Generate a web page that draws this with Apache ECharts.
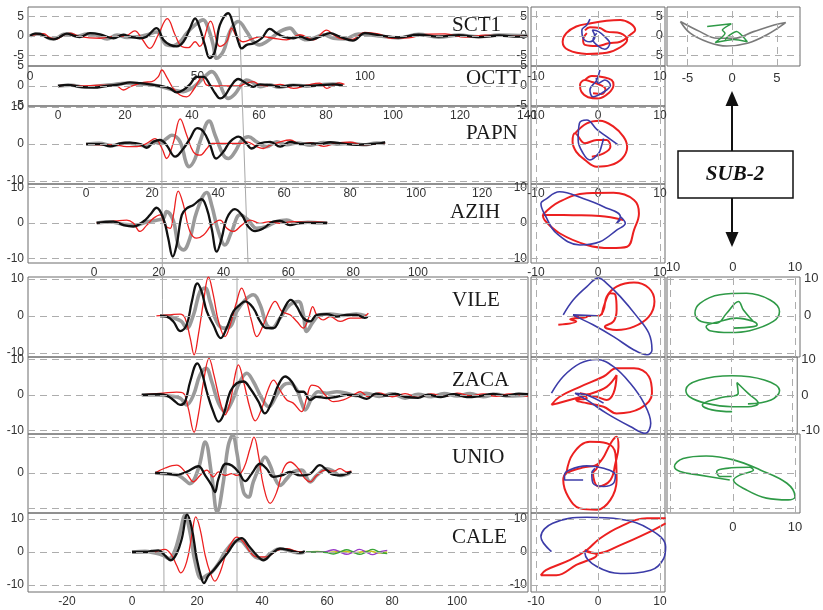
<!DOCTYPE html>
<html>
<head>
<meta charset="utf-8">
<script src="https://cdn.jsdelivr.net/npm/echarts@6/dist/echarts.min.js"></script>
<style>
html, body { margin: 0; padding: 0; background: #fff; }
#main { width: 823px; height: 610px; }
</style>
</head>
<body>
<div id="main"></div>
<script>
// ---- waveforms: [time (s), amplitude] ----
const sct1Black = [[0,0],[1.5,0.6],[3,0.5],[5,-0.4],[7,-0.9],[9,-0.2],[11,0.6],[13,0.1],[14.9,-0.3],[17.9,0.7],[20.9,0.4],[24.9,-0.6],[27.9,0.3],[29.9,-0.2],[32.8,-0.6],[34.8,-0.2],[37.8,2.0],[39.8,-1.0],[41.8,-2.3],[43.8,-2.7],[45.8,-1.5],[47.8,2.0],[49.3,4.5],[50.7,2.0],[52.2,-2.3],[53.7,-5.7],[55.2,-4.0],[56.7,2.8],[59.2,5.8],[60.7,2.8],[62.2,-1.5],[63.2,-3.2],[64.7,-2.3],[66.7,-1.9],[69.2,-0.6],[71.6,1.8],[73.6,0.7],[75.6,-0.2],[78.6,-0.6],[80.6,-0.2],[83.6,-1.0],[86.6,-0.2],[89.6,0.7],[92.5,-0.2],[96.4,-1.2],[100,0.7],[104,0.2],[110,-0.4],[116,0.3],[122,-0.2],[128,0.2],[134,-0.3],[140,0.1],[146,-0.2],[148.5,0]];
const sct1Gray = [[0,0],[2,0.5],[4,0.2],[6,-0.7],[8,-0.5],[10,0.4],[12,0.5],[14,-0.1],[17,0.5],[20,0.2],[23,-0.8],[26,0.2],[29,-0.4],[32,-0.2],[35,0.3],[37.8,1.0],[40.8,-2.3],[42.8,-2.5],[44.8,-1.5],[46.8,0.7],[49.3,2.8],[51.7,4.1],[53.2,2.0],[54.7,-2.3],[55.7,-5.7],[57.7,-4.0],[59.7,1.1],[62.2,3.7],[64.7,1.1],[66.7,-1.5],[68.6,-2.3],[70.6,-1.5],[72.6,-0.2],[74.6,1.1],[77.6,2.0],[79.6,0.3],[82.6,-1.0],[84.6,-0.6],[87.6,0.3],[90.6,-0.6],[94,-0.8],[98,0.5],[104,0],[110,-0.5],[116,0.4],[122,-0.3],[128,0.2],[134,-0.2],[140,0.2],[148.5,0]];
const sct1Red = [[0,0],[2,0.4],[4,0.6],[6,-0.5],[8,-0.8],[10,0.2],[12,0.7],[14.9,-0.2],[20.9,-0.6],[24.9,-0.2],[28.8,0.1],[31.3,1.3],[33.3,-0.6],[35.8,-3.2],[38.3,0.3],[41.0,4.4],[43.3,0.3],[45.3,-2.7],[47.3,-3.0],[49.3,-1.5],[50.7,-2.7],[53.9,3.8],[56.7,-2.7],[58.7,-1.5],[60.2,2.0],[61.7,-0.2],[63.7,-1.5],[66.7,-0.6],[69.6,-0.2],[72.6,-0.6],[76.6,-1.0],[80.6,0.3],[84.6,-1.0],[88.6,1.5],[90.6,0.3],[92.5,-0.6],[96,-0.9],[100,0.9],[104,0.5],[108,-0.6],[113,-0.5],[118,0.4],[124,0.5],[130,-0.3],[136,0.2],[142,-0.1],[148.5,0]];

const octtBlack = [[0,0],[3,0.3],[6.6,-0.2],[10.6,-0.4],[14.5,0],[18.5,0.4],[21.5,0.9],[24.5,0.7],[27.5,0.4],[30.5,0],[33.4,-0.6],[35.4,-1.6],[37.4,-1.0],[39.4,0.4],[41.4,2.3],[43.4,2.3],[45.4,0.2],[46.9,-1.8],[48.4,-3.1],[49.9,-2.3],[51.8,0.2],[53.8,1.75],[55.8,0.9],[58.3,-0.2],[60.3,0.4],[63.3,0.2],[66.3,-0.2],[70.3,0.2],[74.2,0],[78.2,0.2],[82.2,0.4],[85,0.1]];
const octtGray = [[0,0],[4,0.2],[8,-0.3],[12,0],[16,0.3],[20,0.7],[24,0.5],[28,0.3],[31,-0.2],[34.4,-1.0],[37.4,-1.4],[39.4,-0.8],[41.4,0.4],[43.4,2.0],[45.9,3.6],[47.9,1.5],[49.3,-1.5],[50.8,-3.1],[52.8,-2.0],[54.8,0.4],[56.3,1.5],[58.3,0.8],[60.3,-0.2],[63,0.3],[66,-0.3],[70,0.2],[74,0],[78,0.3],[82,0.5],[85,0.2]];
const octtRed = [[0,0],[3,0.3],[6.6,0],[12.5,0.2],[17.5,0],[19.5,-1.0],[21.5,-0.2],[25.5,0.9],[28,1.1],[29.9,2.3],[31.0,4.0],[32.4,2.3],[34.4,-0.6],[36.4,-2.25],[38.4,-2.7],[40.4,-1.0],[41.9,1.1],[42.9,2.3],[44.4,0.2],[46.4,0],[50,0],[54.3,0],[55.3,0.4],[58.3,1.1],[60.3,0.2],[63.3,0],[66.3,0.4],[70.3,-0.6],[74.2,0.2],[78.2,0.7],[80.2,-0.6],[82.2,0.2],[84,0.8],[85.5,0.4]];

const papnBlack = [[0,0],[4.2,0],[7.3,-0.6],[10.3,0.2],[13.3,0.4],[16.4,0],[18.4,-1.0],[20.4,0.6],[22.4,1.1],[24.4,-0.3],[27.0,-3.4],[29.5,-1.2],[31.5,1.5],[33.7,4.3],[35.6,3.3],[37.6,-0.3],[39.4,-3.9],[41.6,-2.1],[43.6,0.6],[46.2,2.0],[48.2,0.6],[50.2,-1.2],[52.7,0.2],[55.8,0.6],[58.8,-0.7],[61.8,0.6],[64.9,0],[68.9,0.2],[70.9,0],[74,0.5],[78,0.1],[82,-0.2],[86,0],[89,0.2],[90.6,0.5]];
const papnGray = [[0,0],[4,0.2],[8,-0.4],[12,0.3],[16,-0.2],[18.4,-0.6],[20.4,0.6],[22.4,0.2],[24.4,1.5],[26.0,2.4],[28.5,0.6],[30.3,-5.0],[31.2,-6.1],[33,-4.0],[34.5,0.6],[37.3,6.2],[39.1,2.4],[41.6,-3.0],[43.1,-3.9],[45.1,-2.1],[47.2,1.1],[49.2,2.0],[51.7,0.6],[54.7,-0.7],[57.8,0.6],[60.8,-0.2],[64,0.3],[68,-0.3],[72,0.4],[76,0],[80,0.2],[84,-0.2],[88,0.3],[90.6,0.2]];
const papnRed = [[0,0],[5,-0.2],[8.3,-0.2],[12.3,-0.7],[15.4,-0.7],[18.4,0.2],[20.9,1.5],[23,-1.2],[24.4,-3.9],[26.5,0.6],[28.5,6.8],[30.5,2.4],[32.5,-2.1],[34.5,-3.0],[36.6,-1.2],[38.1,0.2],[40.6,0.2],[44.6,0.2],[47.2,0.2],[48.7,0.6],[51.7,-0.7],[53.7,-1.2],[55.8,-0.3],[58.8,0.6],[61.8,1.1],[64.9,0],[68,0.4],[72,-0.6],[76,0.3],[80,0.5],[84,-0.2],[88,0],[90.6,0.3]];

const azihBlack = [[0.8,0],[6.0,0.4],[9.1,-0.6],[12.1,-1.0],[15.2,0.4],[17.3,2.3],[19.3,4.3],[21.4,1.3],[22.9,-4.3],[24.3,-9.5],[25.5,-6.2],[27.1,2.3],[28.6,4.1],[30.7,5.1],[33.2,6.7],[34.8,4.1],[36.3,-1.5],[37.9,-8.1],[39.4,-4.3],[41.0,1.3],[43.5,3.9],[45.6,2.3],[47.6,-1.0],[49.7,-2.3],[52.3,-1.5],[55.3,0.4],[57.4,0.6],[60.5,-0.6],[63.6,0],[67.7,0],[72,0]];
const azihGray = [[0.8,0],[5,0.3],[9,-0.4],[13,-0.6],[16,0.2],[19.3,0.8],[21.4,1.3],[22.4,3.2],[24.5,0.6],[26.0,-6.2],[27.6,-7.6],[29.6,-4.3],[31.7,3.2],[34.8,8.6],[36.3,5.1],[38.4,-2.4],[40.4,-6.2],[42.5,-2.4],[45.1,2.3],[47.6,0.8],[50.2,-1.5],[53.3,-1.0],[56.4,0.4],[59.5,0.8],[62.6,-0.1],[66,0.2],[70,0],[72,0]];
const azihRed = [[0.8,0],[7,0.6],[10.1,0.8],[12.1,0],[14.2,-2.4],[16.3,-0.6],[18.3,1.3],[20.4,2.3],[21.9,-0.6],[23.5,-1.5],[24.5,2.3],[26.0,9.0],[27.6,5.1],[29.6,-2.4],[31.7,-4.3],[33.8,-3.4],[36.3,-0.6],[38.9,0.8],[41.0,-1.5],[43.0,-2.4],[45.6,-0.6],[48.2,0.8],[51.2,-0.1],[54.3,0.4],[57.4,-0.1],[61.5,0.4],[65.6,0.2],[69,0.3],[72,0.1]];

const vileBlack = [[8.6,0],[10.7,-0.2],[12.7,-1.5],[14.8,-4.1],[16.8,-2.4],[18.4,3.9],[20.1,8.8],[21.4,6.6],[23.0,1.2],[25.0,-2.4],[27.3,-6.0],[29.1,-3.3],[31.2,1.2],[33.2,3.0],[34.8,3.9],[37.3,2.1],[39.4,-1.5],[41.4,-3.3],[43.5,-3.3],[45.5,-0.6],[47.1,2.5],[48.8,4.3],[50.7,2.5],[52.7,-0.6],[54.8,-1.5],[56.8,0.3],[59.9,0.5],[63.0,-0.2],[66.1,0.3],[69.1,0.3],[71.5,-0.5],[72.5,-0.2]];
const vileGray = [[8.6,0],[11,0],[13,-0.6],[15.2,-1.5],[16.8,-3.3],[18.9,0.3],[20.9,6.6],[22.5,7.5],[24,3.9],[26.0,-1.5],[28.1,-3.3],[30.2,-2.9],[32.2,1.2],[34.8,4.3],[37.3,5.7],[39.4,3.0],[41.4,-2.4],[43.0,-3.3],[45.5,-0.6],[48.6,3.0],[51.2,3.9],[52.7,0.3],[53.7,-4.2],[55.8,-1.5],[57.8,0.3],[60.9,0.5],[65,0.1],[69,0.5],[72,0]];
const vileRed = [[7.5,0],[11.7,0.3],[14.8,0.5],[16.3,-0.6],[17.9,-6.0],[19.1,-10.5],[20.4,-5.1],[22,3.9],[23.5,10.5],[25.0,5.7],[26.6,-1.5],[28.6,-5.6],[30.2,-2.4],[32.2,3.9],[33.7,7.5],[35.3,3.9],[36.8,-1.5],[38.4,-5.6],[40.4,-2.4],[42.5,2.1],[44.0,3.9],[46.1,1.2],[48.6,0.3],[50.7,-1.5],[52.7,-3.3],[54.3,-0.6],[55.6,2.5],[56.8,0.3],[58.9,-1.1],[60.9,-0.2],[64.0,-1.5],[67.1,-0.6],[70.2,-0.6],[72.7,0.7]];

const zacaBlack = [[3,0],[8.6,0.2],[10.7,-0.2],[12.7,-1.4],[14.8,-2.8],[16.3,-1.9],[17.9,3.8],[20.1,8.9],[21.4,6.6],[23.0,0.9],[25.0,-4.7],[26.6,-7.5],[28.1,-5.6],[30.2,0.9],[32.2,3.3],[34.3,3.8],[36.3,1.9],[38.9,-1.9],[40.9,-5.2],[43.0,-1.9],[45.0,2.8],[47.1,5.2],[49.1,3.8],[51.2,0.9],[52.7,0.9],[54.8,-1.4],[56.8,-0.5],[59.9,-0.9],[63.0,-0.5],[66.1,0],[69.1,-0.2],[72.2,-1.1],[75,0.4],[78,-0.2],[81,0.3],[84,-0.5],[88,-0.8],[91,0.1],[95,-0.6],[99,0.2],[103,-0.6],[107,-0.3],[111,0.3],[115,-0.2],[119,0.4],[121.8,0.2]];
const zacaGray = [[3,0],[8,0],[11.5,-0.3],[14.8,-0.9],[16.8,-2.8],[18.9,0],[20.9,5.6],[22.8,7.5],[24.5,3.8],[26.6,-2.3],[28.6,-4.7],[30.7,-1.9],[33.2,3.8],[35.3,6.1],[37.3,3.8],[39.9,-0.9],[42.0,-3.3],[44.5,0],[46.6,2.8],[48.6,3.3],[50.7,1.4],[52.2,-2.3],[53.2,-4.2],[55.3,-0.9],[57.3,0.9],[59.9,0.5],[63,0.9],[66,0.5],[69,-0.2],[72,0.5],[76,-0.4],[80,0.3],[84,-0.9],[88,0.2],[92,-0.5],[96,0.4],[100,-0.3],[104,0.4],[108,-0.5],[112,0.2],[116,-0.3],[121.8,0]];
const zacaRed = [[3,0],[9.6,0.5],[13.7,0.8],[15.8,0.5],[17.3,-3.8],[19.1,-10.5],[20.4,-5.6],[22.0,3.8],[23.7,10.3],[25.2,5.6],[27.1,-1.9],[28.6,-5.6],[30.2,-1.9],[31.7,5.6],[32.7,8.5],[34.3,3.8],[36.3,-3.8],[37.9,-7.3],[39.9,-3.8],[42.0,1.9],[43.5,4.2],[45.5,1.4],[47.6,-1.4],[49.6,-2.3],[52.2,-4.7],[53.7,-0.9],[55.3,2.8],[57.3,2.3],[59.4,0],[62,-1.9],[65,-1.4],[68.1,0],[70.2,0.9],[72.7,-0.5],[76,0.6],[80,-0.5],[84,0.4],[88,-0.7],[92,0.3],[96,-0.4],[100,0.5],[104,-0.2],[108,0.3],[112,-0.4],[116,0.3],[121.8,-0.4]];

const unioBlack = [[7.1,0],[10.7,-0.2],[13.7,-0.5],[16.8,0.3],[20.4,1.9],[22.5,-0.7],[24.5,-3.5],[25.5,-5.4],[26.6,-1.6],[28.9,2.6],[30.7,2.1],[32.7,0.3],[34.8,-2.3],[36.8,-0.2],[39.4,2.6],[41.4,1.2],[43.5,-1.1],[46.0,-0.7],[48.6,0.3],[51.7,-0.7],[54.8,-0.2],[57.8,2.2],[59.9,0.8],[61.9,-0.5],[64.0,-0.7],[66,-0.2],[67.5,0.3]];
const unioGray = [[7.1,0],[11,-0.3],[13.7,-0.5],[15.8,-1.6],[17.8,-3.0],[20.4,1.2],[22.5,8.7],[24.5,-0.7],[26.2,-11.0],[28.1,-2.5],[29.6,7.7],[31.0,10.6],[32.2,6.0],[34.3,-5.4],[35.8,-6.8],[37.3,-2.5],[39.4,2.1],[40.9,4.5],[42.5,2.1],[44.0,-1.6],[45.5,-3.5],[47.6,-1.6],[49.6,0.3],[52.2,0.8],[54.8,-2.5],[56.8,-0.7],[59.9,1.2],[61.9,0.5],[64,-0.7],[67,0]];
const unioRed = [[7.1,0],[10.2,1.4],[13.7,2.2],[16.8,-0.2],[18.9,-2.5],[20.9,-0.7],[23.0,0.8],[25.0,-1.1],[26.6,0.3],[28.6,-0.7],[30.7,-0.2],[32.2,-0.7],[34.3,1.2],[36.3,6.9],[37.5,10.1],[38.9,5.0],[40.4,-3.5],[42.5,-8.6],[44.5,-5.4],[46.6,1.2],[48.6,3.1],[51.2,1.2],[53.2,-1.6],[54.8,-2.5],[56.8,-0.7],[59.4,0.8],[61.9,0.5],[64.0,1.2],[66,0.3],[67.5,0.5]];

const caleBlack = [[0,0],[4.5,0],[6,0.3],[8.1,0.5],[10.1,-1.0],[11.9,-2.5],[13.7,-0.5],[15.3,4.0],[17.0,11.3],[18.4,7.1],[19.9,-2.0],[21.4,-8.1],[22.1,-9.4],[23.5,-7.1],[25.0,-5.6],[27.1,-3.0],[29.6,0],[31.7,3.0],[33.7,4.2],[35.8,2.0],[38.4,-1.0],[40.4,-2.5],[43.0,-0.5],[45.5,1.0],[48.6,0.5],[51.7,-0.2],[53.2,0.2]];
const caleGray = [[0,0],[4,0.2],[7,-0.3],[9.5,-1.0],[11.4,-2.0],[13.2,0.5],[14.8,6.0],[16.3,11.1],[17.8,6.1],[19.4,-3.0],[21.4,-8.1],[23,-7.0],[24.5,-6.1],[26.6,-3.5],[28.6,0],[31.2,3.0],[33.2,3.5],[35.3,1.5],[37.9,-1.5],[40.4,-2.0],[42.5,-0.5],[45.5,1.0],[48.6,0.3],[51.7,-0.3],[53,0]];
const caleRed = [[0,0],[6.5,0],[10.1,0.8],[12.2,-1.0],[13.7,-4.0],[15.0,-6.3],[16.8,-3.0],[18.4,5.1],[19.6,10.6],[20.9,7.1],[22.5,-1.0],[24.0,-6.1],[25.5,-8.8],[27.1,-6.1],[29.1,0],[30.7,3.0],[32.2,4.5],[34.3,3.0],[36.3,0],[38.4,-1.5],[41.4,-1.5],[44.5,0.5],[47.6,1.0],[50.7,0.2],[52.7,0]];
const calePurple = [[53.5,0],[58,0],[60,0.2],[62,0.7],[64,0],[66,-0.7],[68,0],[70,0.8],[72,0],[74,-0.8],[76,0],[78.5,0.5]];
const caleGreen = [[53.5,0],[58,0],[60,-0.2],[62,-0.6],[64,0],[66,0.7],[68,0],[70,-0.7],[72,0],[74,0.8],[76,0],[78.5,-0.5]];
const caleYellow = [[53.5,0],[57,0.1],[61,-0.1],[65,0.2],[69,-0.2],[73,0.3],[76,-0.3],[78.5,0]];

// ---- particle motion: [x, y] ----
const pmSct1Red = [[-1.8,0.7],[-2.4,-1.0],[-2.1,-2.3],[-0.2,-2.6],[1.7,-1.9],[3.6,-1.5],[5.2,0.3],[6.0,1.5],[5.2,3.2],[3.6,4.1],[1.4,3.9],[-1.3,3.2],[-3.5,2.4],[-5.1,0.7],[-5.7,-1.5],[-4.8,-3.6],[-1.8,-4.6],[1.4,-4.3],[3.6,-2.9],[4.7,-1.0],[3.6,0.7],[1.4,1.1],[0.3,2.0],[-1.3,2.2],[-2.1,1.4]];
const pmSct1Blue = [[-1.3,4.3],[-1.8,2.8],[-2.6,1.5],[-2.4,-0.6],[-1.3,-1.5],[-0.5,-0.2],[-0.9,1.5],[0.1,1.1],[1.1,-0.2],[1.9,-1.9],[1.1,-3.4],[0.1,-2.7],[-0.8,-1.0],[-0.2,0.7]];
const pmOcttRed = [[-2.1,1.5],[-1.0,2.5],[0.9,2.2],[2.2,1.5],[2.5,0.25],[1.7,-1.8],[0.1,-3.1],[-1.6,-2.8],[-2.7,-1.4],[-2.9,0.25],[-2.1,1.5],[-1.0,1.0],[0.3,0.3],[1.2,-0.8],[0.6,-2.0],[-0.8,-1.8]];
const pmOcttBlue = [[0.3,4.0],[-0.2,1.5],[-1.3,-1.0],[-0.8,-2.7],[0.6,-1.8],[2.0,0.2],[1.1,1.5],[0.1,0.7],[-0.3,2.0]];
const pmPapnRed = [[-3.7,2.9],[-1.8,5.6],[0.3,6.3],[2.5,4.7],[4.1,2.0],[4.7,-0.7],[3.9,-3.9],[2.0,-5.7],[-0.2,-6.1],[-2.1,-4.3],[-3.5,-2.1],[-4.1,0.6],[-3.7,2.9],[-2.1,0.2],[-0.2,1.1],[1.4,1.1],[2.0,-0.7],[0.9,-2.5],[-1.0,-3.4]];
const pmPapnBlue = [[3.3,-0.3],[1.4,2.0],[-0.2,4.0],[-1.8,6.5],[-3.0,5.6],[-3.2,1.1],[-2.4,-2.5],[-1.3,-4.3],[0.1,-2.5],[0.6,-0.3],[0.9,1.5]];
const pmAzihRed = [[-8.9,2.3],[-6.2,6.0],[-1.8,8.4],[2.5,8.5],[5.8,6.5],[6.6,2.7],[5.8,-2.0],[4.7,-6.7],[2.0,-7.1],[-1.8,-6.2],[-6.2,-2.9],[-8.6,0.8],[-8.9,2.3],[-4,2.2],[0.3,2.0],[4.1,0.85]];
const pmAzihBlue = [[3.6,0.85],[3.0,-0.1],[3.6,1.8],[0.9,4.6],[-2.4,6.9],[-6.2,8.8],[-8.6,6.5],[-9.2,5.5],[-8.4,1.8],[-6.7,-2.9],[-2.9,-6.2],[0.3,-5.3],[3.0,-2.0],[4.4,-0.1],[3.6,1.8]];
const pmVileRed = [[-6.4,-2.4],[-3.5,-1.5],[-4.5,-0.9],[-1.8,-0.4],[-4.0,0],[0.1,0],[0.9,1.6],[1.4,5.2],[3.0,7.9],[5.8,9.0],[8.2,7.5],[9.1,3.9],[8.2,-0.2],[5.8,-2.9],[3.0,-3.8],[1.1,-2.9],[2.5,-1.5],[3.0,1.6],[2.8,5.7],[2.0,6.1],[1.1,3.4],[0.6,0.3]];
const pmVileBlue = [[-5.6,0.3],[-4.0,4.3],[-1.8,7.9],[0.1,10.2],[1.4,8.8],[3.6,5.2],[6.3,-0.2],[8.2,-4.7],[8.7,-9.2],[7.9,-10.5],[5.8,-9.2],[2.5,-5.6],[-0.8,-2.4],[-3.5,-0.2],[-4.0,0.3],[-0.2,0]];
const pmZacaRed = [[-7.5,-2.8],[-5.6,-1.9],[-1.8,0],[1.4,2.3],[3.0,5.6],[2.5,0.5],[1.4,-1.4],[-0.2,-0.5],[-2.9,0.5],[-1.8,-0.9],[-3.5,-1.4],[0.9,-3.3],[3.0,-5.2],[6.8,-3.8],[8.7,0.5],[8.2,5.2],[5.8,7.5],[3.0,7.5],[0.9,5.2],[-2.9,2.3],[-6.2,-0.5],[-7.5,-2.8]];
const pmZacaBlue = [[-7.5,0.5],[-5.6,5.2],[-2.9,8.9],[-0.2,10.0],[2.5,8.0],[5.2,3.3],[7.4,-2.3],[8.5,-8.0],[7.6,-10.8],[5.2,-8.9],[1.4,-5.2],[-1.8,-1.4],[-3.7,0.5],[-1.8,0],[0.9,-2.3]];
const pmUnioRed = [[-5.1,-0.1],[-4.0,5.5],[-1.3,8.8],[1.4,8.4],[2.8,5.5],[3.0,-2.0],[2.0,-7.6],[-0.2,-10.4],[-2.9,-10.0],[-4.8,-6.7],[-5.6,-2.0],[-5.1,-0.1],[-2.5,1.5],[0.1,2.7],[2.2,8.8],[3.0,10.2],[3.3,7.4],[2.8,2.7],[2.0,-2.0],[0.1,-3.8],[-0.8,-0.1],[-0.2,1.3],[0.3,3.7]];
const pmUnioBlue = [[-2.4,-2.0],[-5.4,-2.0],[-5.4,-0.6],[-4.6,0.85],[-1.8,2.0],[0.9,1.3],[2.8,-0.6],[2.5,-2.9],[0.9,-3.8],[-0.8,-2.9],[-1.0,-0.1],[-0.5,1.3]];
const pmCaleRed = [[10.9,10.2],[7.9,10.2],[3.6,7.7],[0.3,4.1],[-1.8,0.6],[-4.5,-2.4],[-8.4,-5.5],[-9.2,-7.0],[-6.7,-7.0],[-3.5,-3.9],[-0.2,-0.9],[-1.8,0.1],[-2.1,0.6],[-0.2,-0.4],[3.6,2.1],[7.9,5.7],[10.9,8.7]];
const pmCaleBlue = [[-7.5,0.1],[-9.2,4.6],[-7.3,8.7],[-1.8,10.5],[3.6,9.9],[8.5,6.7],[10.9,1.6],[10.6,-1.9],[8.5,-5.5],[3.6,-6.5],[-0.2,-4.4],[-2.1,-0.4],[-1.8,0.6]];

// ---- SUB-2 particle motion ----
const sub2Gray = [[-5.8,3.7],[-4.7,0.7],[-2.8,-1.5],[-0.6,-2.6],[1.7,-1.9],[3.9,0.3],[6.0,3.4],[4.7,2.8],[2.4,1.1],[0.2,-0.6],[-1.7,-0.6],[-3.6,1.1],[-5.8,3.7]];
const sub2Green = [[-2.8,2.4],[-0.1,3.1],[-1.1,1.5],[-0.8,0.7],[-1.9,-1.7],[0.2,-0.9],[1.7,-1.5],[0.5,1.1],[-0.2,0.3],[-0.8,-0.9]];
const greenVile = [[0.1,-3.3],[3.3,-2.9],[3.9,-2.4],[3.3,-1.5],[0.6,-0.6],[-2.1,-1.5],[-4.3,-2.9],[-3.7,-4.0],[-0.5,-4.5],[2.7,-4.0],[6.5,-1.5],[7.5,1.2],[6.0,4.3],[2.2,6.1],[-2.1,5.7],[-5.3,3.4],[-6.1,0.7],[-5.1,-1.5],[-2.6,-2.0],[-1.0,0.7],[0.9,3.9],[1.7,1.6],[3.3,-1.5]];
const greenZaca = [[0.1,-4.7],[-3.2,-4.2],[-4.8,-2.8],[-2.1,-0.9],[1.1,0.5],[0.9,3.5],[2.7,0.5],[4.4,-2.3],[2.7,-3.3],[0.1,-3.3],[-4.3,-2.3],[-6.9,-0.5],[-7.5,1.4],[-5.3,4.2],[0.1,5.4],[5.4,4.2],[7.9,1.2],[6.5,-1.4],[2.7,-2.5]];
const greenUnio = [[-0.2,-1.0],[-2.1,-1.0],[-2.6,0.4],[-1.0,1.3],[2.7,1.6],[3.3,0.85],[1.1,-0.6],[0.1,-2.0],[2.2,-4.8],[5.4,-7.1],[8.9,-7.6],[10.0,-6.7],[8.7,-2.9],[4.4,0.85],[0.1,3.7],[-4.3,4.8],[-8.0,4.1],[-9.4,1.8],[-8.5,0.4],[-5.3,-0.6],[-0.5,-2.0]];

// ---- tick labels ----
const sct1Ticks = [0, 50, 100, 150];
const octtTicks = [0, 20, 40, 60, 80, 100, 120, 140];
const papnTicks = [0, 20, 40, 60, 80, 100, 120];
const azihTicks = [0, 20, 40, 60, 80, 100];
const caleTicks = [-20, 0, 20, 40, 60, 80, 100];
const pmTicks = [-10, 0, 10];

const SANS = '"Liberation Sans", Arial, sans-serif';
const RED = '#ec2020', BLUE = '#3c3ca8', GREEN = '#2f9a47', GRAY = '#9a9a9a', BLACK = '#111';

const grid = [], xAxis = [], yAxis = [], series = [];

function panel(box, xr, yr, o) {
  const i = grid.length;
  grid.push({ left: box[0], top: box[1], width: box[2], height: box[3], show: true, borderColor: '#6c6c6c', borderWidth: 1 });
  const lab = (vals, margin, fs) => ({
    show: !!(vals && vals.length), customValues: vals || [], margin: margin,
    fontFamily: SANS, fontSize: fs || 12, color: '#333'
  });
  xAxis.push({ type: 'value', gridIndex: i, min: xr[0], max: xr[1], position: o.xPos || 'bottom',
    axisLine: { show: false }, axisTick: { show: false }, splitLine: { show: false },
    axisLabel: lab(o.xl, o.xm != null ? o.xm : 4, o.fs) });
  yAxis.push({ type: 'value', gridIndex: i, min: yr[0], max: yr[1], position: o.yPos || 'left',
    axisLine: { show: false }, axisTick: { show: false }, splitLine: { show: false },
    axisLabel: lab(o.yl, 4, o.fs) });
  // dashed reference lines
  const ml = (o.hd || []).map(v => ({ yAxis: v })).concat((o.vd || []).map(v => ({ xAxis: v })));
  series.push({ type: 'line', xAxisIndex: i, yAxisIndex: i, data: [[xr[0], yr[0]]], showSymbol: false, symbol: 'none',
    lineStyle: { width: 0 }, silent: true, z: 1,
    markLine: { symbol: ['none', 'none'], silent: true, label: { show: false }, animation: false,
      lineStyle: { type: [7, 5], color: '#adadad', width: 1 }, data: ml } });
  return i;
}

function line(gi, data, color, width, smooth) {
  series.push({ type: 'line', xAxisIndex: gi, yAxisIndex: gi, data: data, showSymbol: false, symbol: 'none',
    smooth: smooth, lineStyle: { color: color, width: width }, silent: true, z: 3 });
}

function waves(gi, gray, red, black) {
  line(gi, gray, GRAY, 3.6, 0.4);
  line(gi, red, RED, 1.3, 0.4);
  line(gi, black, BLACK, 2.3, 0.4);
}

// left column: waveforms
const L = 28, LW = 500;
let g;
g = panel([L, 7, LW, 59], [-0.6, 148.7], [-7.7, 7.4], { xl: sct1Ticks, xm: 5, yl: [-5, 0, 5], hd: [-5, 0, 5] });
waves(g, sct1Gray, sct1Red, sct1Black);
g = panel([L, 66, LW, 40], [-8.96, 140.3], [-5, 5], { xl: octtTicks, yl: [-5, 0, 5], hd: [0] });
waves(g, octtGray, octtRed, octtBlack);
g = panel([L, 106, LW, 78], [-17.6, 133.9], [-10.8, 10.3], { xl: papnTicks, yl: [-10, 0, 10], hd: [-10, 0, 10] });
waves(g, papnGray, papnRed, papnBlack);
g = panel([L, 184, LW, 79], [-20.4, 134], [-11.3, 11], { xl: azihTicks, yl: [-10, 0, 10], hd: [-10, 0, 10] });
waves(g, azihGray, azihRed, azihBlack);
g = panel([L, 277, LW, 80], [-32, 121.8], [-11.1, 10.5], { yl: [-10, 0, 10], hd: [-10, 0, 10] });
waves(g, vileGray, vileRed, vileBlack);
g = panel([L, 357, LW, 77], [-32, 121.8], [-11, 10.7], { yl: [-10, 0, 10], hd: [-10, 0, 10] });
waves(g, zacaGray, zacaRed, zacaBlack);
g = panel([L, 434, LW, 79], [-32, 121.8], [-11.3, 11], { yl: [0], hd: [-10, 0, 10] });
waves(g, unioGray, unioRed, unioBlack);
g = panel([L, 513, LW, 79], [-32, 121.8], [-12.1, 11.8], { xl: caleTicks, yl: [-10, 0, 10], hd: [-10, 0, 10] });
waves(g, caleGray, caleRed, caleBlack);
line(g, caleYellow, '#c9c21c', 1.6, 0.4);
line(g, calePurple, '#9a3cc8', 1.4, 0.4);
line(g, caleGreen, '#3aa43a', 1.4, 0.4);

// middle column: particle motion
const M = 531, MW = 134, MX = [-10.8, 10.8];
g = panel([M, 7, MW, 59], MX, [-7.7, 7.4], { xl: [-10, 10], xm: 5, yl: [-5, 0, 5], hd: [-5, 0, 5], vd: pmTicks });
line(g, pmSct1Red, RED, 2, 0.4); line(g, pmSct1Blue, BLUE, 1.6, 0.4);
g = panel([M, 66, MW, 40], MX, [-5, 5], { xl: pmTicks, yl: [-5, 0, 5], hd: [0], vd: pmTicks });
line(g, pmOcttRed, RED, 2, 0.4); line(g, pmOcttBlue, BLUE, 1.6, 0.4);
g = panel([M, 106, MW, 78], MX, [-10.8, 10.3], { xl: pmTicks, hd: [-10, 0, 10], vd: pmTicks });
line(g, pmPapnRed, RED, 2, 0.4); line(g, pmPapnBlue, BLUE, 1.6, 0.4);
g = panel([M, 184, MW, 79], MX, [-11.3, 11], { xl: pmTicks, yl: [-10, 0, 10], hd: [-10, 0, 10], vd: pmTicks });
line(g, pmAzihRed, RED, 2, 0.4); line(g, pmAzihBlue, BLUE, 1.6, 0.4);
g = panel([M, 277, MW, 80], MX, [-11.1, 10.5], { hd: [-10, 0, 10], vd: pmTicks });
line(g, pmVileRed, RED, 2, 0.4); line(g, pmVileBlue, BLUE, 1.6, 0.4);
g = panel([M, 357, MW, 77], MX, [-11, 10.7], { hd: [-10, 0, 10], vd: pmTicks });
line(g, pmZacaRed, RED, 2, 0.4); line(g, pmZacaBlue, BLUE, 1.6, 0.4);
g = panel([M, 434, MW, 79], MX, [-11.3, 11], { hd: [-10, 0, 10], vd: pmTicks });
line(g, pmUnioRed, RED, 2, 0.4); line(g, pmUnioBlue, BLUE, 1.6, 0.4);
g = panel([M, 513, MW, 79], MX, [-12.1, 11.8], { xl: pmTicks, yl: [-10, 0, 10], hd: [-10, 0, 10], vd: pmTicks });
line(g, pmCaleRed, RED, 2, 0.4); line(g, pmCaleBlue, BLUE, 1.6, 0.4);

// right column: SUB-2
const R = 667, RW = 133, RX = [-10.6, 10.8];
g = panel([R, 7, RW, 59], [-7.3, 7.6], [-7.7, 7.4], { xl: [-5, 0, 5], xm: 6, yl: [-5, 0, 5], fs: 13, hd: [-5, 0, 5], vd: [-5, 0, 5] });
line(g, sub2Gray, '#7a7a7a', 1.6, 0.4); line(g, sub2Green, GREEN, 1.5, 0.2);
g = panel([R, 277, RW, 80], RX, [-11.1, 10.5], { xl: [-10, 0, 10], xPos: 'top', xm: 3, yl: [0, 10], yPos: 'right', fs: 13, hd: [-10, 0, 10], vd: pmTicks });
line(g, greenVile, GREEN, 1.6, 0.4);
g = panel([R, 357, RW, 77], RX, [-11, 10.7], { yl: [-10, 0, 10], yPos: 'right', fs: 13, hd: [-10, 0, 10], vd: pmTicks });
line(g, greenZaca, GREEN, 1.6, 0.4);
g = panel([R, 434, RW, 79], RX, [-11.3, 11], { xl: [0, 10], xm: 8, fs: 13, hd: [-10, 0, 10], vd: pmTicks });
line(g, greenUnio, GREEN, 1.6, 0.4);

// station names and annotations
const names = [['SCT1', 452, 25], ['OCTT', 466, 78], ['PAPN', 466, 133], ['AZIH', 450, 212],
  ['VILE', 452, 300], ['ZACA', 452, 380], ['UNIO', 452, 457], ['CALE', 452, 537]];
const graphic = [
  { type: 'line', z: 2, shape: { x1: 161, y1: 7, x2: 164, y2: 592 }, style: { stroke: '#a8a8a8', lineWidth: 1 } },
  { type: 'line', z: 2, shape: { x1: 239, y1: 7, x2: 248, y2: 263 }, style: { stroke: '#a8a8a8', lineWidth: 1 } },
  { type: 'line', z: 2, shape: { x1: 237, y1: 277, x2: 237, y2: 592 }, style: { stroke: '#a8a8a8', lineWidth: 1 } },
  { type: 'line', z: 5, shape: { x1: 732, y1: 151, x2: 732, y2: 102 }, style: { stroke: '#111', lineWidth: 2 } },
  { type: 'polygon', z: 5, shape: { points: [[732, 91], [725.5, 106], [738.5, 106]] }, style: { fill: '#111' } },
  { type: 'line', z: 5, shape: { x1: 732, y1: 198, x2: 732, y2: 236 }, style: { stroke: '#111', lineWidth: 2 } },
  { type: 'polygon', z: 5, shape: { points: [[732, 247], [725.5, 232], [738.5, 232]] }, style: { fill: '#111' } },
  { type: 'rect', z: 5, shape: { x: 678, y: 151, width: 115, height: 47 }, style: { fill: '#fff', stroke: '#111', lineWidth: 1.5 } },
  { type: 'text', z: 6, x: 735, y: 175, style: { text: 'SUB-2', font: 'italic bold 21px "Liberation Serif", serif', fill: '#111', align: 'center', verticalAlign: 'middle' } }
].concat(names.map(n => ({ type: 'text', z: 6, x: n[1], y: n[2],
  style: { text: n[0], font: '21px "Liberation Serif", serif', fill: '#1a1a1a', verticalAlign: 'middle' } })));

const chart = echarts.init(document.getElementById('main'));
chart.setOption({ animation: false, backgroundColor: '#fff', grid, xAxis, yAxis, series, graphic });
</script>
</body>
</html>
